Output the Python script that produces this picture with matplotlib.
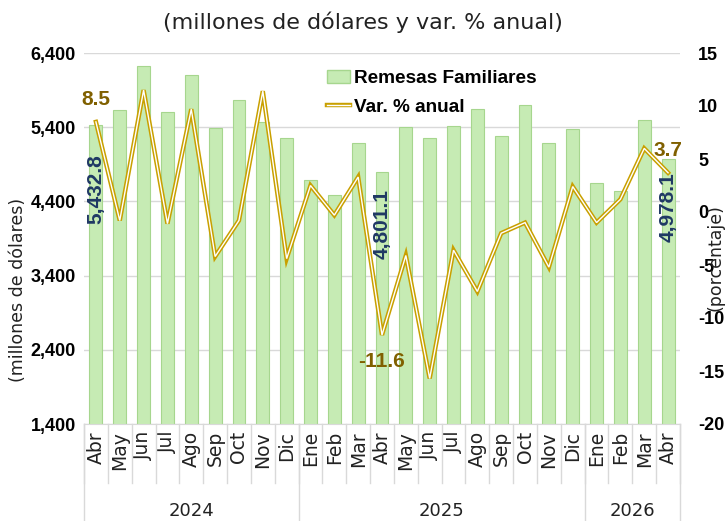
import numpy as np
import matplotlib.pyplot as plt
import matplotlib.transforms as mtransforms
from matplotlib.lines import Line2D
from matplotlib.patches import Patch
from matplotlib.legend_handler import HandlerTuple

# data
meses = ['Abr', 'May', 'Jun', 'Jul', 'Ago', 'Sep', 'Oct', 'Nov', 'Dic',
         'Ene', 'Feb', 'Mar', 'Abr', 'May', 'Jun', 'Jul', 'Ago', 'Sep', 'Oct', 'Nov', 'Dic',
         'Ene', 'Feb', 'Mar', 'Abr']
anios = ['2024', '2025', '2026']
meses_por_anio = [9, 12, 4]
remesas = [5432.8, 5630, 6220, 5605, 6110, 5390, 5765, 5470, 5255,
           4695, 4485, 5185, 4801.1, 5405, 5250, 5410, 5650, 5275, 5705, 5190, 5375,
           4650, 4540, 5495, 4978.1]
var_anual = [8.5, -0.8, 11.5, -1.1, 9.7, -4.2, -0.8, 11.4, -4.4,
             2.5, -0.3, 3.3, -11.6, -4.1, -15.7, -3.6, -7.5, -2.0, -1.0, -5.2, 2.4,
             -1.0, 1.2, 6.0, 3.7]

verde = '#C6EBB4'
verde_borde = '#A6D68E'
oro = '#C9A000'
oro_txt = '#806000'
azul_txt = '#1F3864'
gris = '#D9D9D9'
num_font = ['Liberation Sans', 'DejaVu Sans']

fig = plt.figure(figsize=(7.26, 5.21), dpi=100)
ax = fig.add_axes([84 / 726, 1 - 424 / 521, (680 - 84) / 726, (424 - 53) / 521])
ax2 = ax.twinx()

x = np.arange(len(meses))
ax.bar(x, remesas, width=0.54, color=verde, edgecolor=verde_borde, linewidth=0.8,
       zorder=2)
ax.set_ylim(1400, 6400)
ax.set_xlim(-0.5, len(meses) - 0.5)
ax.set_yticks(np.arange(1400, 6401, 1000))
ax.set_yticklabels([f'{v:,.0f}' for v in np.arange(1400, 6401, 1000)],
                   fontweight='bold', fontsize=13, family=num_font)
ax.yaxis.grid(True, color=gris, linewidth=1, zorder=0)
ax.set_axisbelow(True)
ax.tick_params(axis='y', length=0, pad=6)
for s in ['top', 'right', 'left']:
    ax.spines[s].set_visible(False)
ax.spines['bottom'].set_color(gris)

# var % line as a double gold line
ax2.plot(x, var_anual, color=oro, linewidth=3.2, zorder=3, solid_joinstyle='miter')
ax2.plot(x, var_anual, color='white', linewidth=1.0, zorder=4, solid_joinstyle='miter')
ax2.set_ylim(-20, 15)
ax2.set_yticks(np.arange(-20, 16, 5))
ax2.set_yticklabels([str(v) for v in np.arange(-20, 16, 5)],
                    fontweight='bold', fontsize=13, family=num_font)
ax2.tick_params(axis='y', length=0, pad=13)
for s in ['top', 'right', 'left', 'bottom']:
    ax2.spines[s].set_visible(False)
ax.set_zorder(1)
ax2.set_zorder(2)

# month tick labels and category separators
ax.set_xticks(x)
ax.set_xticklabels(meses, rotation=90, fontsize=13.5, color='#222222')
ax.tick_params(axis='x', length=0, pad=5)
trans = mtransforms.blended_transform_factory(ax.transData, ax.transAxes)
for i in range(len(meses) + 1):
    ax.plot([i - 0.5, i - 0.5], [0, -0.16], transform=trans, color=gris,
            linewidth=1, clip_on=False)
inicio = 0
for anio, n in zip(anios, meses_por_anio):
    ax.plot([inicio - 0.5, inicio - 0.5], [0, -0.27], transform=trans, color=gris,
            linewidth=1, clip_on=False)
    ax.text(inicio + n / 2 - 0.5, -0.235, anio, transform=trans, ha='center',
            va='center', fontsize=13, color='#222222')
    inicio += n
ax.plot([inicio - 0.5, inicio - 0.5], [0, -0.27], transform=trans, color=gris,
        linewidth=1, clip_on=False)

# data labels
desplaz = {0: -870, 12: -712, 24: -659}
for i, d in desplaz.items():
    ax.text(x[i], remesas[i] + d, f'{remesas[i]:,.1f}',
            rotation=90, ha='center', va='center', fontsize=15, fontweight='bold',
            color=azul_txt, zorder=5, family=num_font)
ax2.text(x[0], var_anual[0] + 2.1, f'{var_anual[0]:.1f}', ha='center', va='center',
         fontsize=15, fontweight='bold', color=oro_txt, family=num_font)
ax2.text(x[12], var_anual[12] - 2.5, f'{var_anual[12]:.1f}', ha='center', va='center',
         fontsize=15, fontweight='bold', color=oro_txt, family=num_font)
ax2.text(x[24], var_anual[24] + 2.1, f'{var_anual[24]:.1f}', ha='center', va='center',
         fontsize=15, fontweight='bold', color=oro_txt, family=num_font)

# axis titles
fig.text(18 / 726, 1 - 290 / 521, '(millones de dólares)', rotation=90, ha='center',
         va='center', fontsize=12.5, color='#222222')
fig.text(716 / 726, 1 - 258 / 521, '(porcentaje)', rotation=90, ha='center',
         va='center', fontsize=12.5, color='#222222')
fig.text(0.5, 1 - 22 / 521, '(millones de dólares y var. % anual)', ha='center',
         va='center', fontsize=16, color='#222222')

# legend
h_bar = Patch(facecolor=verde, edgecolor=verde_borde)
h_line = (Line2D([], [], color=oro, linewidth=3.2), Line2D([], [], color='white', linewidth=1.0))
leg = ax2.legend([h_bar, h_line], ['Remesas Familiares', 'Var. % anual'],
                 handler_map={tuple: HandlerTuple(ndivide=1)},
                 loc='upper left', bbox_to_anchor=(0.395, 0.975), frameon=False,
                 prop={'weight': 'bold', 'size': 13.7, 'family': num_font},
                 handlelength=1.2, handletextpad=0.2, labelspacing=0.6,
                 borderaxespad=0)

fig.savefig('out.png', dpi=100)
